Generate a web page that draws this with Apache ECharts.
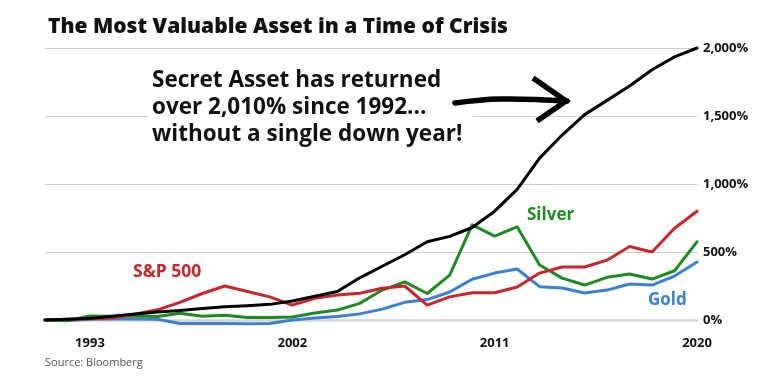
<!DOCTYPE html>
<html>
<head>
<meta charset="utf-8">
<script src="https://cdn.jsdelivr.net/npm/echarts@6/dist/echarts.min.js"></script>
<style>
html,body{margin:0;padding:0;background:#fff;}
#chart{width:774px;height:387px;}
</style>
</head>
<body>
<div id="chart"></div>
<script>
const years = ['1991','1992','1993','1994','1995','1996','1997','1998','1999','2000','2001','2002','2003','2004','2005','2006','2007','2008','2009','2010','2011','2012','2013','2014','2015','2016','2017','2018','2019','2020'];
const xTickLabels = ['1993','2002','2011','2020'];
const yTicks = [0, 500, 1000, 1500, 2000];

const secretAsset = [0,5,12,28,45,58,70,85,97,105,115,140,175,210,310,395,480,575,615,680,800,960,1190,1360,1510,1615,1720,1840,1935,2000];
const sp500 =       [0,5,10,14,42,75,130,195,250,210,170,110,160,183,197,233,250,110,170,200,200,243,345,390,390,440,540,500,675,800];
const silver =      [0,-5,30,28,30,25,50,28,35,18,18,22,51,73,122,220,280,195,330,700,617,685,404,308,257,314,338,301,362,575];
const gold =        [0,-3,5,8,8,5,-25,-25,-25,-27,-25,0,15,25,45,80,130,150,206,300,345,375,245,235,198,220,265,257,323,426];

const FONT = '"Open Sans", Lato, sans-serif';
const chart = echarts.init(document.getElementById('chart'));

function lineSeries(name, data, color, z) {
  return {
    name: name, type: 'line', data: data, showSymbol: false, symbol: 'none',
    clip: false, z: z,
    lineStyle: { color: color, width: 3, join: 'round', cap: 'round' }
  };
}

chart.setOption({
  animation: false,
  backgroundColor: '#fff',
  title: {
    text: 'The Most Valuable Asset in a Time of Crisis',
    left: 43, top: 12,
    textStyle: { fontFamily: FONT, fontSize: 21, fontWeight: 800, color: '#111' }
  },
  grid: { left: 45, right: 77, top: 48, bottom: 67 },
  xAxis: {
    type: 'category', data: years, boundaryGap: false,
    axisLine: { show: true, lineStyle: { color: '#d6d6d6', width: 2.5 } },
    axisTick: { show: false },
    splitLine: { show: false },
    axisLabel: {
      interval: function (i, v) { return xTickLabels.indexOf(v) >= 0; },
      margin: 17, fontFamily: FONT, fontSize: 13, fontWeight: 'bold', color: '#111'
    }
  },
  yAxis: {
    type: 'value', position: 'right', min: yTicks[0], max: yTicks[yTicks.length - 1], interval: 500,
    axisLine: { show: false }, axisTick: { show: false },
    splitLine: { lineStyle: { color: '#cfcfcf', width: 1 } },
    axisLabel: {
      margin: 6, fontFamily: FONT, fontSize: 13, fontWeight: 'bold', color: '#111',
      formatter: function (v) { return v.toLocaleString('en-US') + '%'; }
    }
  },
  series: [
    lineSeries('Gold', gold, '#3b7fd6', 2),
    lineSeries('Silver', silver, '#1f8a22', 3),
    lineSeries('S&P 500', sp500, '#c9252c', 4),
    lineSeries('Secret Asset', secretAsset, '#000000', 5)
  ],
  graphic: [
    { type: 'rect', shape: { x: 148, y: 62, width: 325, height: 90 }, style: { fill: '#fff' }, z: 10 },
    { type: 'text', x: 152, y: 67, z: 11,
      style: { text: 'Secret Asset has returned\nover 2,010% since 1992...\nwithout a single down year!',
        font: 'bold 22.5px ' + FONT, fill: '#111', lineHeight: 27 } },
    { type: 'polyline', z: 11, shape: { points: [[455,103],[500,99],[567,101]], smooth: 0.4 },
      style: { stroke: '#000', lineWidth: 5.5, fill: null, lineCap: 'round' } },
    { type: 'polyline', z: 11, shape: { points: [[533,78],[566,101],[537,121]] },
      style: { stroke: '#000', lineWidth: 5.5, fill: null, lineCap: 'butt', lineJoin: 'miter' } },
    { type: 'text', x: 527, y: 207, z: 11, style: { text: 'Silver', font: 'bold 17px ' + FONT, fill: '#1f8a22' } },
    { type: 'text', x: 133, y: 263, z: 11, style: { text: 'S&P 500', font: 'bold 17.5px ' + FONT, fill: '#c9252c' } },
    { type: 'text', x: 648, y: 292, z: 11, style: { text: 'Gold', font: 'bold 17px ' + FONT, fill: '#3b7fd6' } },
    { type: 'text', x: 45, y: 357, z: 11, style: { text: 'Source: Bloomberg', font: '11px ' + FONT, fill: '#555' } }
  ]
});
</script>
</body>
</html>
